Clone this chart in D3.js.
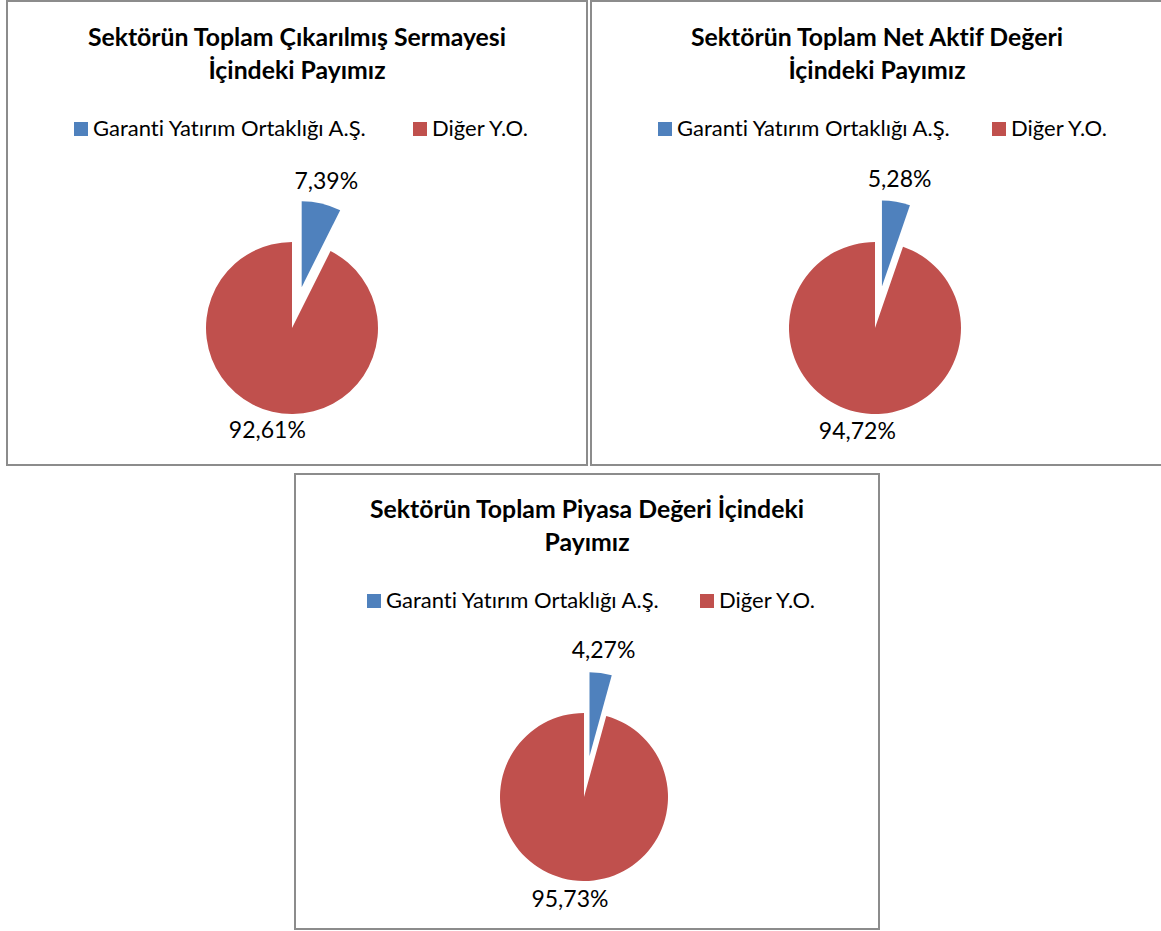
<!DOCTYPE html>
<html>
<head>
<meta charset="utf-8">
<script src="https://cdn.jsdelivr.net/npm/d3@7"></script>
<style>
  body { margin: 0; background: #fff; }
  svg { display: block; }
  text { font-family: Lato, "Open Sans", sans-serif; fill: #000; font-variant-ligatures: none; font-feature-settings: "liga" 0; }
</style>
</head>
<body>
<div id="chart"></div>
<script>
const categories = ["Garanti Yatırım Ortaklığı A.Ş.", "Diğer Y.O."];
const colors = ["#4F81BD", "#C0504D"];
const titles = [
  ["Sektörün Toplam Çıkarılmış Sermayesi", "İçindeki Payımız"],
  ["Sektörün Toplam Net Aktif Değeri", "İçindeki Payımız"],
  ["Sektörün Toplam Piyasa Değeri İçindeki", "Payımız"]
];
const garantiShare = [7.39, 5.28, 4.27];
const digerShare = [92.61, 94.72, 95.73];
const labels = [["7,39%", "92,61%"], ["5,28%", "94,72%"], ["4,27%", "95,73%"]];

const w = 1161, h = 931;

// panel frames, pie centre/radius, title and legend anchors
const panels = [
  {x: 7, y: 1, w: 580, h: 464, cx: 292, cy: 328, r: 86, tx: 297, ty: 40, lx: [74, 413], ly: 129},
  {x: 591, y: 1, w: 580, h: 464, cx: 875, cy: 328, r: 86, tx: 877, ty: 40, lx: [658, 992], ly: 129},
  {x: 295, y: 474, w: 584, h: 455, cx: 584, cy: 797, r: 84, tx: 587, ty: 512, lx: [367, 700], ly: 601}
];

const svg = d3.select("#chart")
  .append("svg")
  .attr("width", w)
  .attr("height", h);

const pie = d3.pie().sort(null).value(d => d);

panels.forEach((p, i) => {
  const g = svg.append("g");

  g.append("rect")
    .attr("x", p.x)
    .attr("y", p.y)
    .attr("width", p.w)
    .attr("height", p.h)
    .attr("fill", "#fff")
    .attr("stroke", "#8c8c8c")
    .attr("stroke-width", 2);

  // title
  titles[i].forEach((line, k) => {
    g.append("text")
      .attr("x", p.tx)
      .attr("y", p.ty + k * 33)
      .attr("text-anchor", "middle")
      .attr("dominant-baseline", "middle")
      .style("font-weight", "bold")
      .style("font-size", "24.8px")
      .text(line);
  });

  // legend
  categories.forEach((c, k) => {
    const lx = p.lx[k];
    g.append("rect")
      .attr("x", lx)
      .attr("y", p.ly - 7)
      .attr("width", 14)
      .attr("height", 14)
      .attr("fill", colors[k]);
    g.append("text")
      .attr("x", lx + 19)
      .attr("y", p.ly + 1)
      .attr("dominant-baseline", "middle")
      .style("font-size", "22px")
      .text(c);
  });

  const arcs = pie([garantiShare[i], digerShare[i]]);
  const arc = d3.arc().innerRadius(0).outerRadius(p.r);
  const explode = 42 * p.r / 86;

  arcs.forEach((a, k) => {
    const mid = (a.startAngle + a.endAngle) / 2;
    const off = k === 0 ? explode : 0;
    const ox = p.cx + off * Math.sin(mid);
    const oy = p.cy - off * Math.cos(mid);

    g.append("path")
      .attr("d", arc(a))
      .attr("transform", `translate(${ox}, ${oy})`)
      .attr("fill", colors[k]);

    const R = p.r + 21;
    g.append("text")
      .attr("x", ox + R * Math.sin(mid))
      .attr("y", oy - R * Math.cos(mid))
      .attr("text-anchor", "middle")
      .attr("dominant-baseline", "middle")
      .style("font-size", "23px")
      .text(labels[i][k]);
  });
});
</script>
</body>
</html>
